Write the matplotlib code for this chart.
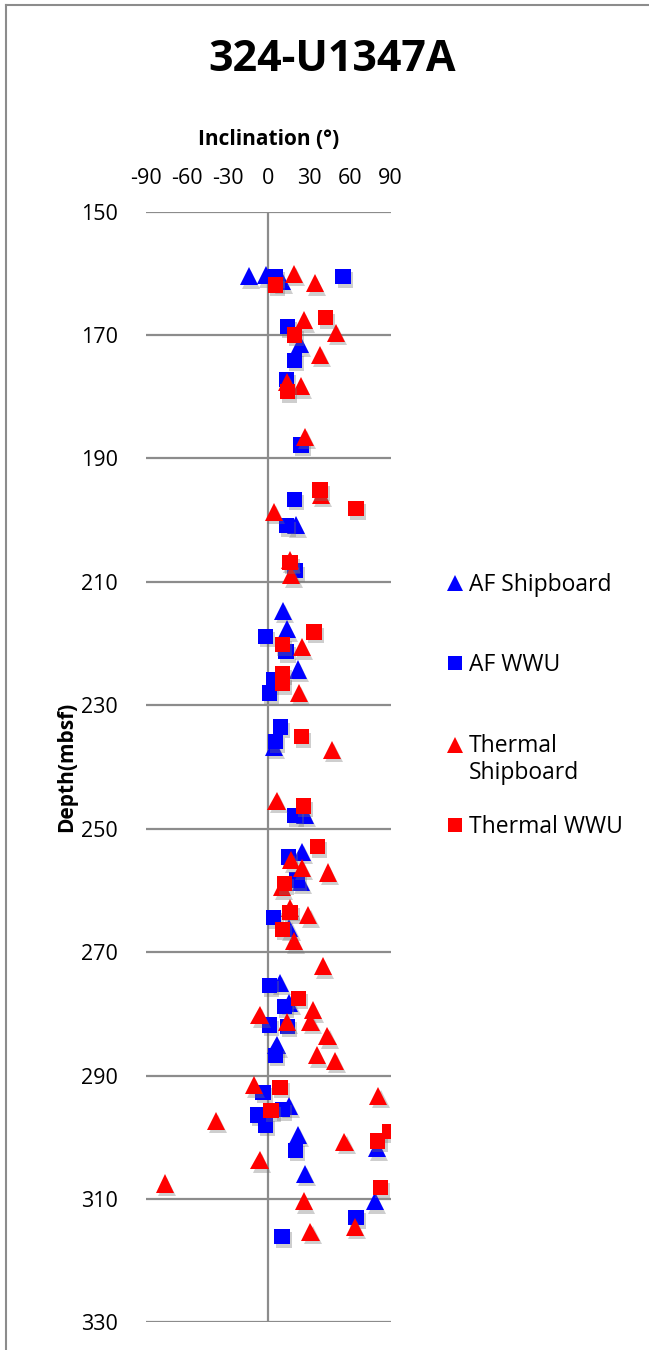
import matplotlib.pyplot as plt
import matplotlib.patheffects as pe
from matplotlib.lines import Line2D

# === Datos: inclinación (°) vs profundidad (mbsf) ===
af_ship_depth = [160.5, 160.3, 161.3, 171.5, 200.8, 214.7, 217.7, 224.2, 236.7, 247.7,
                 253.7, 258.6, 266.1, 275.0, 278.2, 285.1, 294.9, 299.6, 301.8, 305.9, 310.4]
af_ship_inc = [-14, -2, 10, 23, 20, 11, 13.5, 22, 4, 27,
               25, 24, 15.5, 8.6, 15.5, 6, 15, 21.5, 80, 27, 78.5]

af_wwu_depth = [160.5, 160.5, 168.6, 174.1, 177.2, 187.8, 196.6, 200.9, 208.2, 218.8,
                221.3, 225.8, 228.0, 233.5, 235.9, 247.9, 254.6, 258.3, 264.4, 275.4,
                278.8, 281.8, 282.0, 286.7, 292.7, 295.5, 296.4, 298.0, 302.1, 313.0, 316.1]
af_wwu_inc = [5, 55, 14, 19, 13.5, 24, 19, 13.5, 19.5, -2,
              13, 4, 1, 9, 5, 19, 15, 21, 4, 1,
              12, 1, 14, 5, -4, 10.5, -8, -2, 20, 64.5, 10]

th_ship_depth = [160.1, 161.6, 167.6, 169.6, 173.2, 177.6, 178.3, 186.5, 195.9, 198.6,
                 206.5, 208.9, 220.6, 228.0, 237.2, 245.5, 255.1, 256.3, 257.1, 259.5,
                 262.9, 264.0, 268.2, 272.3, 279.4, 280.2, 281.3, 281.3, 283.6, 286.7,
                 287.6, 291.6, 293.3, 297.3, 300.7, 303.7, 307.5, 310.4, 314.5, 315.3]
th_ship_inc = [19, 34, 26, 50, 38, 14, 24, 27, 39, 4,
               16, 17, 25, 22.5, 46.5, 6, 17, 25, 44, 10,
               16, 29.5, 19, 40, 33, -6.5, 13.5, 31, 43.5, 35.5,
               49, -10.5, 81, -38.5, 56, -6.5, -76, 26, 64, 31]

th_wwu_depth = [161.9, 167.2, 170.0, 179.2, 195.1, 198.1, 206.9, 218.1, 220.2, 224.9,
                226.5, 235.1, 246.3, 252.9, 258.9, 263.6, 266.3, 277.5, 291.9, 295.7,
                299.1, 300.6, 308.1]
th_wwu_inc = [5, 42, 19, 14, 38, 64.5, 16, 33.5, 10.5, 10.5,
              10.5, 24.5, 26, 36, 12, 16, 10.5, 22, 8.5, 2,
              89, 80.5, 82.5]

x_ticks = [-90, -60, -30, 0, 30, 60, 90]
y_ticks = [150, 170, 190, 210, 230, 250, 270, 290, 310, 330]

plt.rcParams['font.family'] = ['Open Sans', 'DejaVu Sans']
plt.rcParams['axes.unicode_minus'] = False

W, H = 649, 1350
fig = plt.figure(figsize=(W / 100, H / 100), dpi=100)
ax = fig.add_axes([0.225, 0.0205, 0.377, 0.8227])

sombra = [pe.SimplePatchShadow(offset=(1.5, -2.5), shadow_rgbFace='0.45', alpha=0.35), pe.Normal()]

series = [
    (af_ship_inc, af_ship_depth, '^', '#0000FF', 13, 'AF Shipboard'),
    (af_wwu_inc, af_wwu_depth, 's', '#0000FF', 11, 'AF WWU'),
    (th_ship_inc, th_ship_depth, '^', '#FF0000', 13, 'Thermal\nShipboard'),
    (th_wwu_inc, th_wwu_depth, 's', '#FF0000', 11, 'Thermal WWU'),
]
for inc, dep, mk, col, ms, lab in series:
    ax.plot(inc, dep, linestyle='none', marker=mk, color=col, markersize=ms,
            markeredgewidth=0, label=lab, path_effects=sombra, zorder=3)

ax.set_xlim(-90, 90)
ax.set_ylim(330, 150)
ax.set_xticks(x_ticks)
ax.set_yticks(y_ticks)
ax.xaxis.tick_top()
ax.xaxis.set_label_position('top')
ax.tick_params(axis='both', length=0, labelsize=15.5)
ax.tick_params(axis='x', pad=16)
ax.tick_params(axis='y', pad=20)
for s in ax.spines.values():
    s.set_visible(False)
ax.yaxis.grid(True, color='#8c8c8c', linewidth=1.6)
ax.axvline(0, color='#8c8c8c', linewidth=1.6, zorder=1)

ax.set_xlabel('Inclination (°)', fontsize=15, fontweight='bold', labelpad=17)
ax.set_ylabel('Depth(mbsf)', fontsize=15, fontweight='bold', labelpad=3)
fig.text(0.512, 0.956, '324-U1347A', ha='center', va='center', fontsize=31, fontweight='bold')

# leyenda a mano: una fila por serie, el marcador alineado con la primera línea
fila_y = [583, 663, 745, 825]
for (_, _, mk, col, ms, lab), py in zip(series, fila_y):
    fig.add_artist(Line2D([455 / W], [1 - py / H], linestyle='none', marker=mk, color=col,
                          markersize=ms - 1, markeredgewidth=0, transform=fig.transFigure))
    base = py + 8 + 26 * lab.count('\n')  # 'baseline' toma la última línea
    fig.text(469 / W, 1 - base / H, lab, ha='left', va='baseline', fontsize=16.5, linespacing=1.15)

# marco del gráfico
fig.add_artist(Line2D([0.009, 0.009], [0, 0.996], color='#8c8c8c', linewidth=1.5, transform=fig.transFigure))
fig.add_artist(Line2D([0.009, 1], [0.996, 0.996], color='#8c8c8c', linewidth=1.5, transform=fig.transFigure))

fig.savefig('out.png', dpi=100, facecolor='white')
